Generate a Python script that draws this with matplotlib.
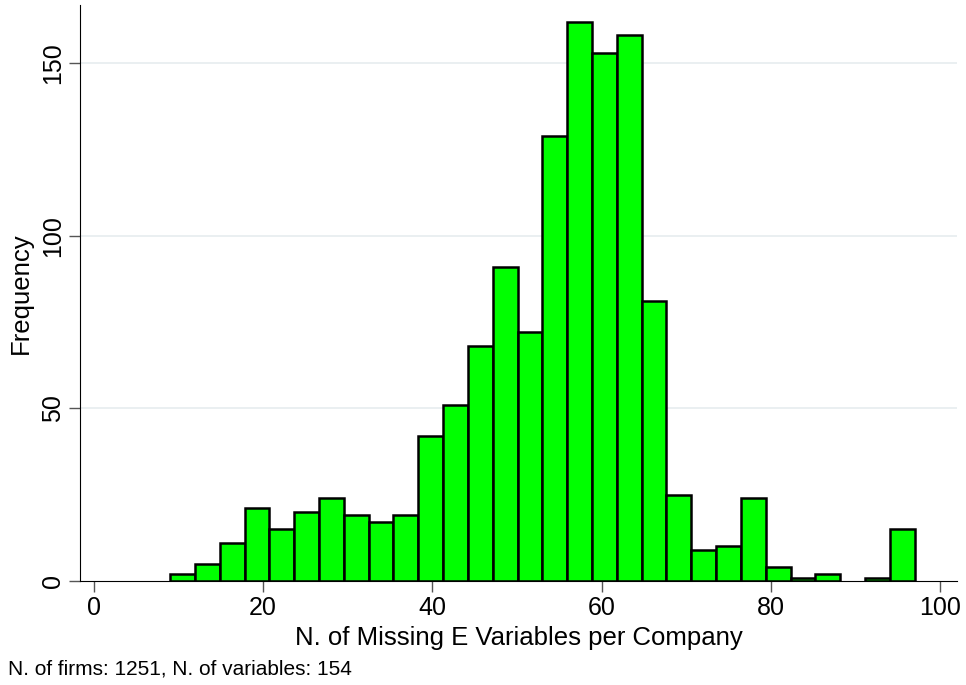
import numpy as np
import matplotlib.pyplot as plt

plt.rcParams['font.family'] = ['Liberation Sans', 'DejaVu Sans']

# histogram: 30 bins from 9 to 97 missing variables
bin_lo = 9
bin_hi = 97
counts = [2, 5, 11, 21, 15, 20, 24, 19, 17, 19,
          42, 51, 68, 91, 72, 129, 162, 153, 158, 81,
          25, 9, 10, 24, 4, 1, 2, 0, 1, 15]
x_ticks = [0, 20, 40, 60, 80, 100]
y_ticks = [0, 50, 100, 150]

edges = np.linspace(bin_lo, bin_hi, len(counts) + 1)
width = edges[1] - edges[0]

fig = plt.figure(figsize=(9.66, 6.85), dpi=100)
ax = fig.add_axes([80/966, 1 - 581/685, 877/966, 576/685])

for y in y_ticks[1:]:
    ax.axhline(y, color='#e6ecef', lw=1.2, zorder=0)

nz = [i for i, c in enumerate(counts) if c > 0]
ax.bar(edges[:-1][nz], np.array(counts)[nz], width=width, align='edge',
       color='#00ff00', edgecolor='black', linewidth=1.8, zorder=2)

ax.set_xlim(-1.65, 102)
ax.set_ylim(0, 166.8)
ax.set_xticks(x_ticks)
ax.set_yticks(y_ticks)
ax.tick_params(axis='x', length=8, width=1, color='#555555', labelsize=18, pad=3)
ax.tick_params(axis='y', length=8, width=1, color='#555555', labelsize=18, pad=3)
for lab in ax.get_yticklabels():
    lab.set_rotation(90)
    lab.set_va('center')

for s in ['top', 'right']:
    ax.spines[s].set_visible(False)
ax.spines['left'].set_color('black')
ax.spines['bottom'].set_color('black')

ax.set_xlabel('N. of Missing E Variables per Company', fontsize=18.5, labelpad=4)
ax.set_ylabel('Frequency', fontsize=18.5, labelpad=6)

fig.text(8/966, 1 - 669/685, 'N. of firms: 1251, N. of variables: 154',
         fontsize=15, va='center', ha='left')

fig.savefig('out.png', dpi=100, facecolor='white')
